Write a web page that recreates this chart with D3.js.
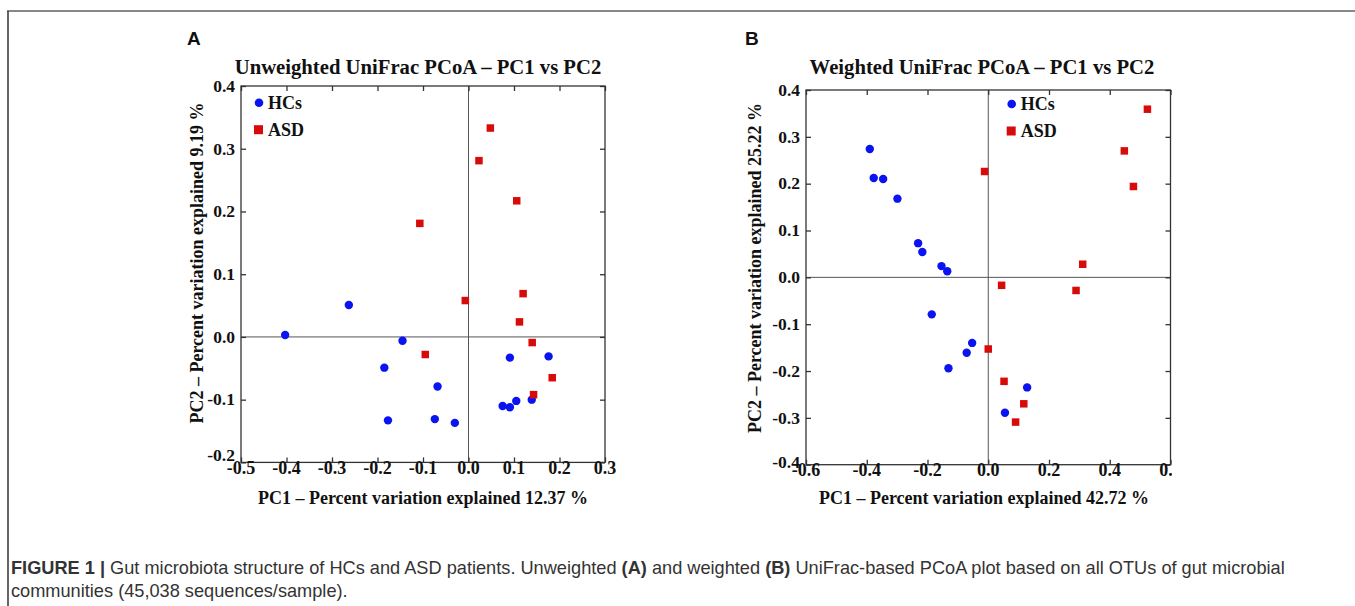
<html>
<head>
<style>
  body { margin: 0; background: white; }
  text { font-family: "Liberation Serif", "Times New Roman", serif; font-weight: bold; fill: #111; }
  .cap { font-family: "Liberation Sans", Arial, sans-serif; font-weight: normal; fill: #333; }
</style>
</head>
<body>
<svg id="svg" width="1355" height="606"></svg>
<script src="https://cdn.jsdelivr.net/npm/d3@7"></script>
<script>

// panel A - unweighted UniFrac, PC1 / PC2
var aHCs = [[-0.403, 0.003], [-0.263, 0.051], [-0.145, -0.006], [-0.185, -0.049], [-0.177, -0.133],
            [-0.068, -0.079], [-0.074, -0.131], [-0.030, -0.137], [0.091, -0.033], [0.176, -0.031],
            [0.075, -0.110], [0.091, -0.112], [0.105, -0.102], [0.139, -0.100]];
var aASD = [[-0.107, 0.181], [0.023, 0.281], [0.048, 0.333], [0.106, 0.217], [-0.007, 0.058],
            [-0.095, -0.028], [0.120, 0.069], [0.112, 0.024], [0.140, -0.009], [0.184, -0.065],
            [0.143, -0.092]];
var aXTicks = [-0.5, -0.4, -0.3, -0.2, -0.1, 0.0, 0.1, 0.2, 0.3];
var aYTicks = [-0.2, -0.1, 0.0, 0.1, 0.2, 0.3, 0.4];

// panel B - weighted UniFrac, PC1 / PC2
var bHCs = [[-0.390, 0.274], [-0.377, 0.212], [-0.346, 0.210], [-0.299, 0.168], [-0.231, 0.073],
            [-0.217, 0.054], [-0.154, 0.024], [-0.135, 0.013], [-0.186, -0.079], [-0.053, -0.140],
            [-0.071, -0.161], [-0.131, -0.194], [0.128, -0.235], [0.055, -0.289]];
var bASD = [[-0.012, 0.226], [0.524, 0.359], [0.448, 0.270], [0.478, 0.194], [0.311, 0.028],
            [0.044, -0.017], [0.289, -0.028], [0.000, -0.153], [0.052, -0.222], [0.117, -0.270],
            [0.090, -0.309]];
var bXTicks = [-0.6, -0.4, -0.2, 0.0, 0.2, 0.4, 0.6];
var bYTicks = [-0.4, -0.3, -0.2, -0.1, 0.0, 0.1, 0.2, 0.3, 0.4];

var svg = d3.select("#svg");

// figure frame
svg.append("line").attr("x1", 7).attr("x2", 1355).attr("y1", 11).attr("y2", 11)
  .style("stroke", "#888").style("stroke-width", 2);
svg.append("line").attr("x1", 8).attr("x2", 8).attr("y1", 11).attr("y2", 606)
  .style("stroke", "#333").style("stroke-width", 1.5);

function panel(p) {
  var g = svg.append("g");
  var x = d3.scaleLinear().domain(p.xd).range([p.l, p.r]);
  var y = d3.scaleLinear().domain(p.yd).range([p.b, p.t]);

  // zero lines
  g.append("line").attr("x1", x(0)).attr("x2", x(0)).attr("y1", p.t).attr("y2", p.b)
    .style("stroke", "#555").style("stroke-width", 1);
  g.append("line").attr("x1", p.l).attr("x2", p.r).attr("y1", y(0)).attr("y2", y(0))
    .style("stroke", "#555").style("stroke-width", 1);

  // inner ticks on all four sides
  var tk = 5;
  g.append("g").attr("transform", "translate(0," + p.b + ")")
    .call(d3.axisBottom(x).tickValues(p.xt).tickSize(-tk).tickFormat(""))
    .call(s => s.select(".domain").remove());
  g.append("g").attr("transform", "translate(0," + p.t + ")")
    .call(d3.axisTop(x).tickValues(p.xt).tickSize(-tk).tickFormat(""))
    .call(s => s.select(".domain").remove());
  g.append("g").attr("transform", "translate(" + p.l + ",0)")
    .call(d3.axisLeft(y).tickValues(p.yt).tickSize(-tk).tickFormat(""))
    .call(s => s.select(".domain").remove());
  g.append("g").attr("transform", "translate(" + p.r + ",0)")
    .call(d3.axisRight(y).tickValues(p.yt).tickSize(-tk).tickFormat(""))
    .call(s => s.select(".domain").remove());
  g.selectAll(".tick line").style("stroke", "#333").style("stroke-width", 1.3);

  g.append("rect").attr("x", p.l).attr("y", p.t).attr("width", p.r - p.l).attr("height", p.b - p.t)
    .style("fill", "none").style("stroke", "#333").style("stroke-width", 1.3);

  // tick labels
  var clipId = "clip" + p.name;
  svg.append("clipPath").attr("id", clipId).append("rect")
    .attr("x", 0).attr("y", 0).attr("width", p.clipX).attr("height", 606);
  g.append("g").attr("clip-path", "url(#" + clipId + ")")
    .selectAll("text").data(p.xt).join("text")
    .attr("x", d => x(d)).attr("y", p.b + p.xlabDy)
    .attr("text-anchor", "middle").attr("font-size", 18)
    .text(d => d.toFixed(1));
  g.append("g").selectAll("text").data(p.yt).join("text")
    .attr("x", p.l - 6).attr("y", (d, i) => y(d) - (i == 0 ? p.lowShift : 0)).attr("dy", "0.33em")
    .attr("text-anchor", "end").attr("font-size", 17.5)
    .text(d => d.toFixed(1));

  // titles
  g.append("text").attr("x", p.titleX).attr("y", 74).attr("text-anchor", "middle")
    .attr("font-size", 20.7).text(p.title);
  g.append("text").attr("x", p.xLabX).attr("y", 504).attr("text-anchor", "middle")
    .attr("font-size", 18).text(p.xLab);
  g.append("text").attr("transform", "translate(" + p.yLabX + "," + p.yLabY + ") rotate(-90)")
    .attr("text-anchor", "middle").attr("font-size", 18).text(p.yLab);
  g.append("text").attr("x", p.letterX).attr("y", 45)
    .style("font-family", "'Liberation Sans', Arial, sans-serif")
    .attr("font-size", 19).text(p.name);

  // points
  g.append("g").selectAll("circle").data(p.hcs).join("circle")
    .attr("cx", d => x(d[0])).attr("cy", d => y(d[1])).attr("r", 4.2)
    .style("fill", "#0a14f0");
  var sq = 7.5;
  g.append("g").selectAll("rect").data(p.asd).join("rect")
    .attr("x", d => x(d[0]) - sq / 2).attr("y", d => y(d[1]) - sq / 2)
    .attr("width", sq).attr("height", sq)
    .style("fill", "#d80b0b");

  // legend
  var lg = g.append("g").attr("transform", "translate(" + p.legX + "," + p.legY + ")");
  lg.append("circle").attr("cx", 0).attr("cy", 0).attr("r", 4.3).style("fill", "#0a14f0");
  lg.append("text").attr("x", 9).attr("y", 6).attr("font-size", 18).text("HCs");
  lg.append("rect").attr("x", -5).attr("y", 22.5).attr("width", 9).attr("height", 9).style("fill", "#d80b0b");
  lg.append("text").attr("x", 9).attr("y", 33).attr("font-size", 18).text("ASD");
}

panel({
  name: "A", l: 241, r: 605, t: 86, b: 462.4,
  xd: [-0.5, 0.3], yd: [-0.2, 0.4], xt: aXTicks, yt: aYTicks,
  hcs: aHCs, asd: aASD, xlabDy: 12, clipX: 1355, lowShift: 7,
  title: "Unweighted UniFrac PCoA \u2013 PC1 vs PC2", titleX: 418,
  xLab: "PC1 \u2013 Percent variation explained 12.37 %", xLabX: 423,
  yLab: "PC2 \u2013 Percent variation explained 9.19 %", yLabX: 203, yLabY: 263,
  letterX: 187, legX: 259, legY: 102.7
});

panel({
  name: "B", l: 806, r: 1170.5, t: 90, b: 464.7,
  xd: [-0.6, 0.6], yd: [-0.4, 0.4], xt: bXTicks, yt: bYTicks,
  hcs: bHCs, asd: bASD, xlabDy: 11, clipX: 1172, lowShift: 2,
  title: "Weighted UniFrac PCoA \u2013 PC1 vs PC2", titleX: 982,
  xLab: "PC1 \u2013 Percent variation explained 42.72 %", xLabX: 984,
  yLab: "PC2 \u2013 Percent variation explained 25.22 %", yLabX: 761, yLabY: 268,
  letterX: 745, legX: 1011.7, legY: 104
});

// caption
var cap = svg.append("text").attr("class", "cap").attr("x", 11).attr("y", 574).attr("font-size", 18.2);
cap.append("tspan").style("font-weight", "bold").text("FIGURE 1 | ");
cap.append("tspan").text("Gut microbiota structure of HCs and ASD patients. Unweighted ");
cap.append("tspan").style("font-weight", "bold").text("(A)");
cap.append("tspan").text(" and weighted ");
cap.append("tspan").style("font-weight", "bold").text("(B)");
cap.append("tspan").text(" UniFrac-based PCoA plot based on all OTUs of gut microbial");
svg.append("text").attr("class", "cap").attr("x", 11).attr("y", 597).attr("font-size", 18.2)
  .text("communities (45,038 sequences/sample).");

</script>
</body>
</html>
